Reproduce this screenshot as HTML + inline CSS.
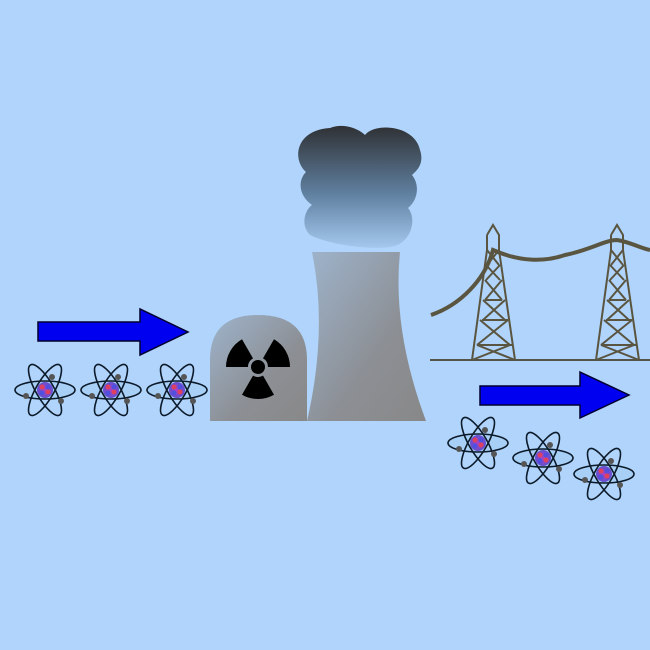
<!DOCTYPE html>
<html><head><meta charset="utf-8"><style>body{margin:0;background:#b0d4fb}svg{display:block}</style></head>
<body>
<svg width="650" height="650" viewBox="0 0 650 650">
<defs>
<linearGradient id="smoke" x1="0" y1="0" x2="0" y2="1"><stop offset="0" stop-color="#2f3134"/><stop offset="0.55" stop-color="#5f7f9f"/><stop offset="1" stop-color="#a4c8ee"/></linearGradient>
<linearGradient id="gray" x1="0" y1="0" x2="1" y2="1"><stop offset="0" stop-color="#9eb4cc"/><stop offset="0.6" stop-color="#8c8f94"/><stop offset="1" stop-color="#888"/></linearGradient>
<radialGradient id="nuc"><stop offset="0" stop-color="#b040c0"/><stop offset="1" stop-color="#6050d0"/></radialGradient>
<g id="atom">
<ellipse rx="30" ry="9" fill="#a8cff5" stroke="#0c1a2a" stroke-width="1.6"/>
<ellipse rx="29" ry="9" fill="none" stroke="#0c1a2a" stroke-width="1.6" transform="rotate(60)"/>
<ellipse rx="29" ry="9" fill="none" stroke="#0c1a2a" stroke-width="1.6" transform="rotate(-60)"/>
<circle r="8" fill="url(#nuc)"/>
<circle cx="-3" cy="-3" r="2.5" fill="#e04060"/><circle cx="3" cy="2" r="2.5" fill="#e04060"/><circle cx="-3" cy="3" r="2.5" fill="#5050e0"/><circle cx="3" cy="-3" r="2.5" fill="#5050e0"/>
<circle cx="7" cy="-13" r="3" fill="#555"/><circle cx="-19" cy="6" r="3" fill="#555"/><circle cx="16" cy="11" r="3" fill="#555"/>
</g>
</defs>
<rect width="650" height="650" fill="#b0d4fb"/>
<path d="M38 322 H140 V309 L188 332 L140 355 V341 H38 Z" fill="#0000f0" stroke="#000030" stroke-width="1.5"/>
<path d="M480 386 H580 V372 L629 395 L580 418 V405 H480 Z" fill="#0000f0" stroke="#000030" stroke-width="1.5"/>
<use href="#atom" x="45" y="390"/>
<use href="#atom" x="111" y="390"/>
<use href="#atom" x="177" y="390"/>
<use href="#atom" x="478" y="443"/>
<use href="#atom" x="543" y="458"/>
<use href="#atom" x="604" y="474"/>
<g fill="url(#smoke)">
<path d="M310 235 C300 225 305 210 312 205 C298 195 298 180 306 172 C292 160 295 130 330 128 C345 122 360 130 365 135 C375 122 415 125 420 150 C425 165 415 172 412 175 C420 185 418 200 408 208 C418 220 410 245 390 247 C370 250 330 245 310 235 Z"/>
</g>
<path d="M312 252 H400 Q392 330 426 421 H307 Q328 330 312 252 Z" fill="url(#gray)"/>
<path d="M210 421 V360 Q210 315 258 315 Q307 315 307 360 V421 Z" fill="url(#gray)"/>
<g transform="translate(258,367)" fill="#000">
<circle r="7"/>
<path d="M10 0 L32 0 A32 32 0 0 0 16 -27.7 L5 -8.7 A10 10 0 0 1 10 0 Z"/>
<path d="M10 0 L32 0 A32 32 0 0 0 16 -27.7 L5 -8.7 A10 10 0 0 1 10 0 Z" transform="rotate(120)"/>
<path d="M10 0 L32 0 A32 32 0 0 0 16 -27.7 L5 -8.7 A10 10 0 0 1 10 0 Z" transform="rotate(240)"/>
</g>
<line x1="430" y1="360" x2="650" y2="360" stroke="#55534a" stroke-width="2"/>
<g stroke="#5a5540" fill="none">
<path d="M431 315 C460 305 485 280 493 250 C520 262 545 262 565 255 C590 250 605 240 617 240 C630 242 640 248 650 250" stroke-width="4"/>
</g>
<g stroke="#5a5540" stroke-width="2" fill="none">
<path d="M487 235 L493 225 L499 235 V250 L515 360 M487 235 V250 L472 360"/>
<path d="M487 250 L499 265 M499 250 L487 265 M486 265 L500 280 M500 265 L486 280 M485 280 L502 300 M502 280 L485 300 M483 300 L505 320 M505 300 L483 320 M480 320 L510 345 M508 320 L477 345 M477 345 L515 360 M510 345 L472 360 M485 300 H502 M482 320 H508 M478 345 H512"/>
</g>
<g stroke="#5a5540" stroke-width="2" fill="none" transform="translate(124,0)">
<path d="M487 235 L493 225 L499 235 V250 L515 360 M487 235 V250 L472 360"/>
<path d="M487 250 L499 265 M499 250 L487 265 M486 265 L500 280 M500 265 L486 280 M485 280 L502 300 M502 280 L485 300 M483 300 L505 320 M505 300 L483 320 M480 320 L510 345 M508 320 L477 345 M477 345 L515 360 M510 345 L472 360 M485 300 H502 M482 320 H508 M478 345 H512"/>
</g>
</svg>
</body></html>
